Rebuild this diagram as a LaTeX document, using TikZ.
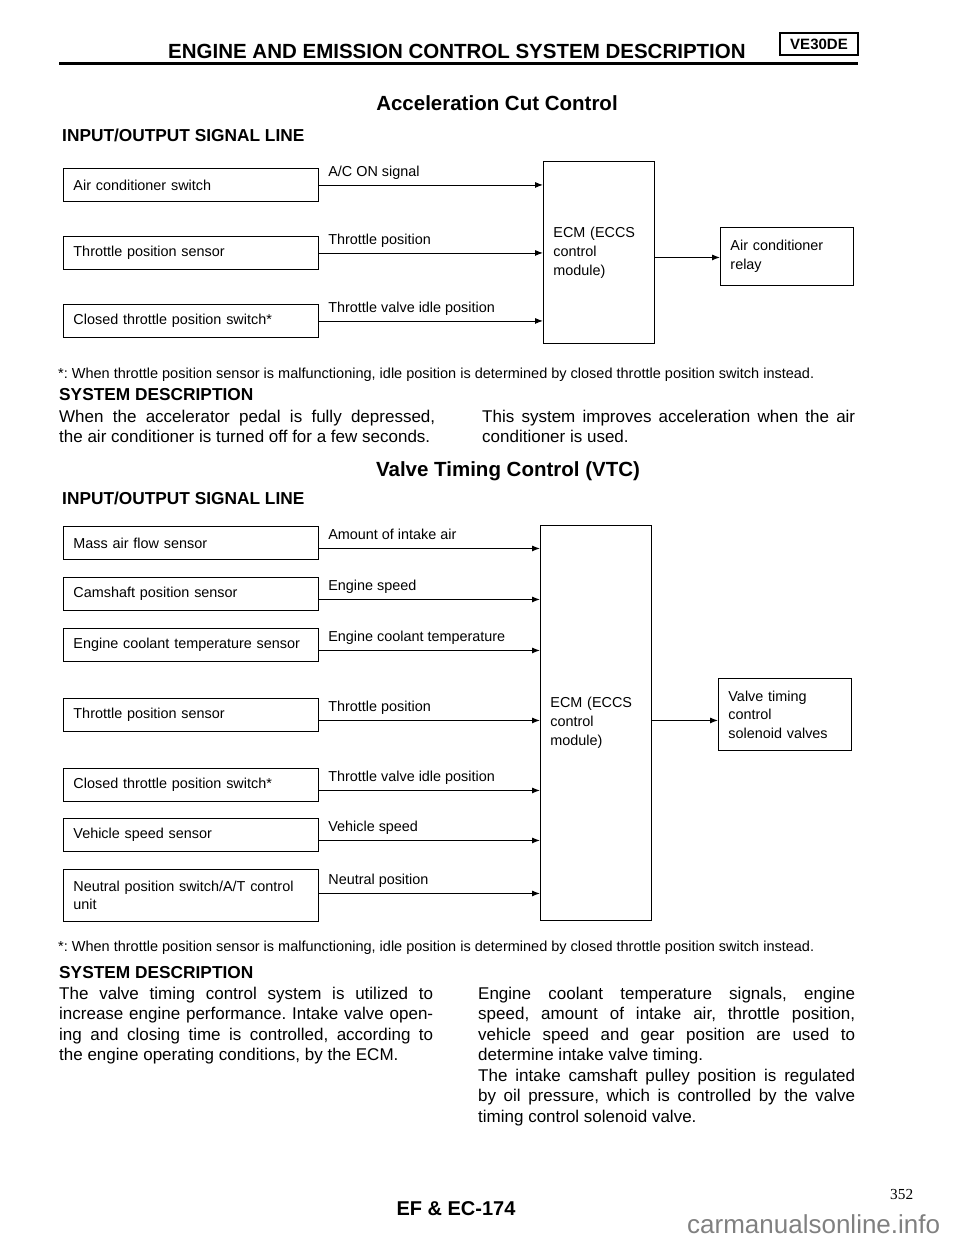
\documentclass[tikz,border=0pt]{standalone}
\usepackage{fontspec}
\setmainfont{Liberation Sans}
\newfontfamily\pagenofont{Liberation Serif}
\usetikzlibrary{arrows.meta,positioning}
\definecolor{wmgray}{RGB}{128,128,128}
\frenchspacing

\tikzset{
  sensor/.style={draw, line width=0.9pt, anchor=north west, minimum width=255pt, minimum height=33pt,
    text width=235pt, inner xsep=10pt, inner ysep=0pt, align=left, font=\fontsize{14.4}{18}\selectfont},
  ecmbox/.style={draw, line width=0.9pt, anchor=north west, minimum width=111pt, text width=91pt,
    inner xsep=10pt, inner ysep=0pt, align=left, font=\fontsize{14.4}{19}\selectfont},
  actuator/.style={draw, line width=0.9pt, anchor=north west, minimum width=133pt, text width=113pt,
    inner xsep=10pt, inner ysep=0pt, align=left, font=\fontsize{14.4}{18.5}\selectfont},
  sig/.style={line width=0.9pt, -{Latex[length=8pt,width=6pt]}},
  siglbl/.style={pos=0, anchor=base west, xshift=9pt, yshift=8.5pt, inner sep=0pt,
    font=\fontsize{14.4}{18}\selectfont},
  title/.style={anchor=base, inner sep=0pt, font=\bfseries\fontsize{20.5}{24}\selectfont},
  subhead/.style={anchor=base west, inner sep=0pt, font=\bfseries\fontsize{17.3}{20}\selectfont},
  body/.style={anchor=base west, inner sep=0pt, align=justify, font=\fontsize{17}{20.5}\selectfont,
    execute at begin node={\tolerance=10000\hyphenpenalty=10000}},
  note/.style={anchor=base west, inner sep=0pt, font=\fontsize{14.5}{17}\selectfont},
}

\begin{document}
\begin{tikzpicture}[x=1pt, y=-1pt]
\useasboundingbox (0,0) rectangle (960,1242);

% page header
\node[title, anchor=base west] (hdr) at (168,58) {ENGINE AND EMISSION CONTROL SYSTEM DESCRIPTION};
\node[draw, line width=1.2pt, minimum width=78pt, minimum height=22pt, inner sep=0pt,
  font=\bfseries\fontsize{15}{17}\selectfont] (engine) at (819,44) {VE30DE};
\draw[line width=3pt] (59,63) -- (858,63);

% Acceleration cut control
\node[title] (acc) at (497,110) {Acceleration Cut Control};
\node[subhead] (io1) at (62,141) {INPUT/OUTPUT SIGNAL LINE};

\node[sensor] (acsw) at (63,168) {Air conditioner switch};
\node[sensor] (tps1) at (63,236) {Throttle position sensor};
\node[sensor] (ctps1) at (63,304) {Closed throttle position switch*};
\node[ecmbox, minimum height=182pt] (ecm1) at (543,161) {ECM (ECCS\\control\\module)};
\node[actuator, minimum height=58pt] (relay) at (720,227) {Air conditioner\\relay};

\draw[sig] (acsw.east) -- node[siglbl] {A/C ON signal} (acsw.east -| ecm1.west);
\draw[sig] (tps1.east) -- node[siglbl] {Throttle position} (tps1.east -| ecm1.west);
\draw[sig] (ctps1.east) -- node[siglbl] {Throttle valve idle position} (ctps1.east -| ecm1.west);
\draw[sig] ([yshift=-5pt]ecm1.east) -- ([yshift=-5pt]ecm1.east -| relay.west);

\node[note] (fn1) at (58,378) {*: When throttle position sensor is malfunctioning, idle position is determined by closed throttle position switch instead.};
\node[subhead] (sd1) at (59,400) {SYSTEM DESCRIPTION};
\node[body, text width=376pt] (sd1l) at (59,422) {When the accelerator pedal is fully depressed,\linebreak the air conditioner is turned off for a few seconds.};
\node[body, text width=373pt] (sd1r) at (482,422) {This system improves acceleration when the air\linebreak conditioner is used.};

% Valve timing control
\node[title] (vtc) at (508,476) {Valve Timing Control (VTC)};
\node[subhead] (io2) at (62,504) {INPUT/OUTPUT SIGNAL LINE};

\node[sensor] (maf) at (63,526) {Mass air flow sensor};
\node[sensor] (cmps) at (63,577) {Camshaft position sensor};
\node[sensor] (ects) at (63,628) {Engine coolant temperature sensor};
\node[sensor] (tps2) at (63,698) {Throttle position sensor};
\node[sensor] (ctps2) at (63,768) {Closed throttle position switch*};
\node[sensor] (vss) at (63,818) {Vehicle speed sensor};
\node[sensor, minimum height=52pt] (nps) at (63,869) {Neutral position switch/A/T control\\unit};
\node[ecmbox, minimum height=395pt] (ecm2) at (540,525) {ECM (ECCS\\control\\module)};
\node[actuator, minimum height=72pt] (vtcsol) at (718,678) {Valve timing\\control\\solenoid valves};

\draw[sig] ([yshift=-5.5pt]maf.east) -- node[siglbl] {Amount of intake air} ([yshift=-5.5pt]maf.east -| ecm2.west);
\draw[sig] ([yshift=-5.5pt]cmps.east) -- node[siglbl] {Engine speed} ([yshift=-5.5pt]cmps.east -| ecm2.west);
\draw[sig] ([yshift=-5.5pt]ects.east) -- node[siglbl] {Engine coolant temperature} ([yshift=-5.5pt]ects.east -| ecm2.west);
\draw[sig] ([yshift=-5.5pt]tps2.east) -- node[siglbl] {Throttle position} ([yshift=-5.5pt]tps2.east -| ecm2.west);
\draw[sig] ([yshift=-5.5pt]ctps2.east) -- node[siglbl] {Throttle valve idle position} ([yshift=-5.5pt]ctps2.east -| ecm2.west);
\draw[sig] ([yshift=-5.5pt]vss.east) -- node[siglbl] {Vehicle speed} ([yshift=-5.5pt]vss.east -| ecm2.west);
\draw[sig] ([yshift=2pt]nps.east) -- node[siglbl] {Neutral position} ([yshift=2pt]nps.east -| ecm2.west);
\draw[sig] ([yshift=2.5pt]ecm2.east) -- ([yshift=2.5pt]ecm2.east -| vtcsol.west);

\node[note] (fn2) at (58,951) {*: When throttle position sensor is malfunctioning, idle position is determined by closed throttle position switch instead.};
\node[subhead] (sd2) at (59,978) {SYSTEM DESCRIPTION};
\node[body, text width=374pt] (sd2l) at (59,999) {The valve timing control system is utilized to\linebreak increase engine performance. Intake valve open-\linebreak ing and closing time is controlled, according to\linebreak the engine operating conditions, by the ECM.};
\node[body, text width=377pt] (sd2r) at (478,999) {Engine coolant temperature signals, engine\linebreak speed, amount of intake air, throttle position,\linebreak vehicle speed and gear position are used to\linebreak determine intake valve timing.\par The intake camshaft pulley position is regulated\linebreak by oil pressure, which is controlled by the valve\linebreak timing control solenoid valve.};

% page foot
\node[anchor=base, inner sep=0pt, font=\bfseries\fontsize{20}{24}\selectfont] (pageref) at (456,1215) {EF \& EC-174};
\node[anchor=base west, inner sep=0pt, font=\pagenofont\fontsize{15.3}{18}\selectfont] (pageno) at (890,1199) {352};
\node[anchor=base west, inner sep=0pt, text=wmgray, font=\fontsize{26}{30}\selectfont] (wmark) at (687,1233) {carmanualsonline.info};
\end{tikzpicture}
\end{document}
